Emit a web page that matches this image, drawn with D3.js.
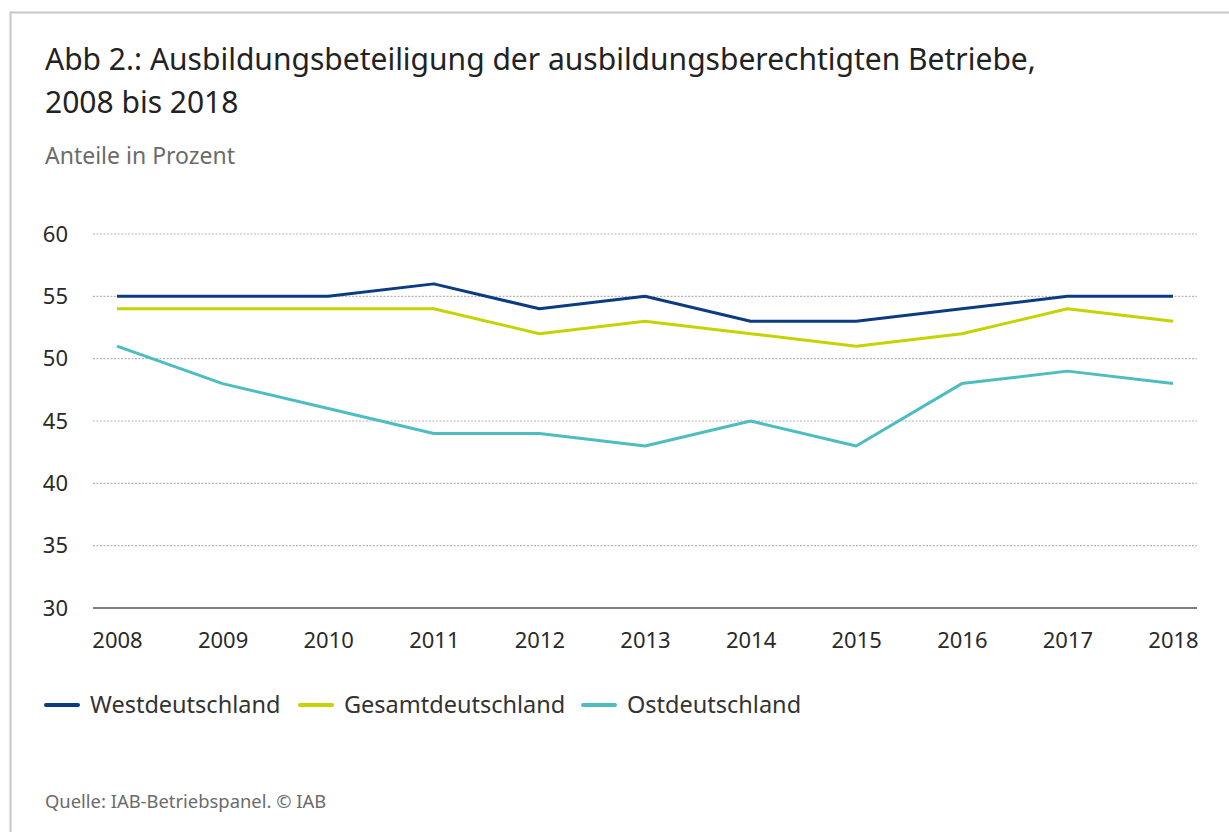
<!DOCTYPE html>
<html>
<head>
<meta charset="utf-8">
<script src="https://cdn.jsdelivr.net/npm/d3@7"></script>
<style>
  body { margin: 0; background: #fff; }
  svg text { font-family: "Noto Sans", "Open Sans", sans-serif; }
</style>
</head>
<body>
<div id="wrapper"></div>
<script>
// data
const years = [2008, 2009, 2010, 2011, 2012, 2013, 2014, 2015, 2016, 2017, 2018]
const westValues = [55, 55, 55, 56, 54, 55, 53, 53, 54, 55, 55]
const gesamtValues = [54, 54, 54, 54, 52, 53, 52, 51, 52, 54, 53]
const ostValues = [51, 48, 46, 44, 44, 43, 45, 43, 48, 49, 48]
const yTicks = [30, 35, 40, 45, 50, 55, 60]
const seriesNames = ["Westdeutschland", "Gesamtdeutschland", "Ostdeutschland"]
const seriesColors = ["#0c3c80", "#c5d300", "#4dbdc2"]

function drawChart() {
  const dimensions = {
    width: 1229,
    height: 832,
    margin: { top: 234, right: 32, bottom: 224, left: 93 },
  }
  dimensions.boundedWidth = dimensions.width - dimensions.margin.left - dimensions.margin.right
  dimensions.boundedHeight = dimensions.height - dimensions.margin.top - dimensions.margin.bottom

  const wrapper = d3.select("#wrapper")
    .append("svg")
      .attr("width", dimensions.width)
      .attr("height", dimensions.height)

  // frame
  wrapper.append("rect")
      .attr("x", 10.5)
      .attr("y", 12.5)
      .attr("width", dimensions.width + 20)
      .attr("height", dimensions.height + 20)
      .attr("fill", "none")
      .attr("stroke", "#c8c8c8")
      .attr("stroke-width", 2)

  // title
  const title = wrapper.append("text")
      .attr("x", 45)
      .attr("y", 70)
      .attr("fill", "#222")
      .style("font-size", "30px")
  title.append("tspan").text("Abb 2.: Ausbildungsbeteiligung der ausbildungsberechtigten Betriebe,")
  title.append("tspan").attr("x", 45).attr("dy", 43).text("2008 bis 2018")

  wrapper.append("text")
      .attr("x", 45)
      .attr("y", 164)
      .attr("fill", "#6b6b6b")
      .style("font-size", "23px")
      .text("Anteile in Prozent")

  const bounds = wrapper.append("g")
      .attr("transform", `translate(${dimensions.margin.left}, ${dimensions.margin.top})`)

  // scales
  const xScale = d3.scalePoint()
    .domain(years)
    .range([24, dimensions.boundedWidth - 24])

  const yScale = d3.scaleLinear()
    .domain([30, 60])
    .range([dimensions.boundedHeight, 0])

  // grid
  bounds.selectAll(".grid")
    .data(yTicks.filter(d => d > 30))
    .enter().append("line")
      .attr("class", "grid")
      .attr("x1", 0)
      .attr("x2", dimensions.boundedWidth)
      .attr("y1", d => yScale(d))
      .attr("y2", d => yScale(d))
      .attr("stroke", "#b5b5b5")
      .attr("stroke-width", 1.2)
      .attr("stroke-dasharray", "2,1.5")

  // y axis labels
  const yAxis = bounds.append("g")
    .call(d3.axisLeft(yScale).tickValues(yTicks).tickSize(0).tickPadding(25))
  yAxis.select(".domain").remove()
  yAxis.selectAll("text")
      .attr("fill", "#2a2a2a")
      .style("font-size", "22px")

  // x axis
  const xAxis = bounds.append("g")
      .attr("transform", `translate(0, ${dimensions.boundedHeight})`)
    .call(d3.axisBottom(xScale).tickSize(0).tickPadding(24))
  xAxis.select(".domain")
      .attr("stroke", "#555")
      .attr("stroke-width", 1.5)
      .attr("d", `M0,0H${dimensions.boundedWidth}`)
  xAxis.selectAll("text")
      .attr("fill", "#2a2a2a")
      .style("font-size", "22px")

  // lines
  const allSeries = [westValues, gesamtValues, ostValues]
  const lineGenerator = d3.line()
    .x((d, i) => xScale(years[i]))
    .y(d => yScale(d))

  bounds.selectAll(".series")
    .data(allSeries)
    .enter().append("path")
      .attr("class", "series")
      .attr("d", d => lineGenerator(d))
      .attr("fill", "none")
      .attr("stroke", (d, i) => seriesColors[i])
      .attr("stroke-width", 3)
      .attr("stroke-linejoin", "round")

  // legend
  const legendX = [46, 300, 583]
  const legend = wrapper.selectAll(".legend")
    .data(seriesNames)
    .enter().append("g")
      .attr("class", "legend")
      .attr("transform", (d, i) => `translate(${legendX[i]}, 705)`)
  legend.append("line")
      .attr("x1", 0)
      .attr("x2", 32)
      .attr("stroke", (d, i) => seriesColors[i])
      .attr("stroke-width", 4)
      .attr("stroke-linecap", "round")
  legend.append("text")
      .attr("x", 44)
      .attr("dy", "0.35em")
      .attr("fill", "#333")
      .style("font-size", "23.5px")
      .text(d => d)

  // source
  wrapper.append("text")
      .attr("x", 45)
      .attr("y", 808)
      .attr("fill", "#6b6b6b")
      .style("font-size", "18.4px")
      .text("Quelle: IAB-Betriebspanel. © IAB")
}
drawChart()
</script>
</body>
</html>
